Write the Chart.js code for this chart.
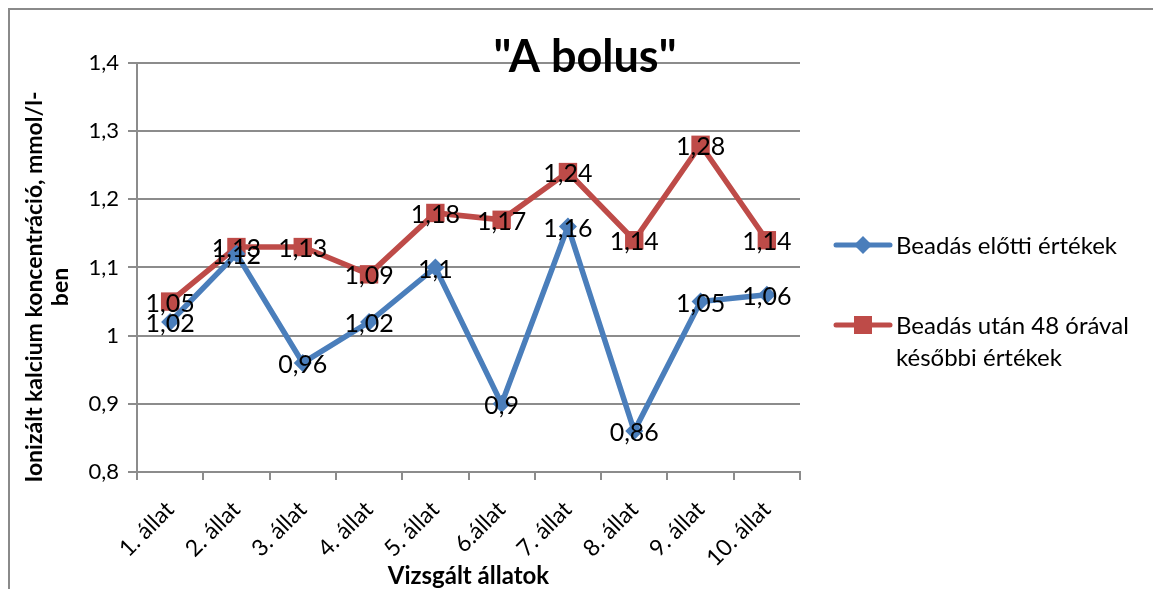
<!DOCTYPE html>
<html>
<head>
<meta charset="utf-8">
<script src="https://cdn.jsdelivr.net/npm/chart.js@4.4.0/dist/chart.umd.min.js"></script>
<style>
  body { margin: 0; background: #fff; }
  #wrap { position: relative; width: 1153px; height: 589px; overflow: hidden; }
  #frame { position: absolute; left: 8px; top: 8px; width: 1200px; height: 700px;
           border-top: 2px solid #8a8a8a; border-left: 2px solid #8a8a8a; }
  canvas { position: absolute; left: 0; top: 0; }
</style>
</head>
<body>
<div id="wrap">
  <div id="frame"></div>
  <canvas id="chart" width="1153" height="589"></canvas>
</div>
<script>
const animals = ['1. állat', '2. állat', '3. állat', '4. állat', '5. állat',
                 '6.állat', '7. állat', '8. állat', '9. állat', '10. állat'];
const before = [1.02, 1.12, 0.96, 1.02, 1.1, 0.9, 1.16, 0.86, 1.05, 1.06];
const after48 = [1.05, 1.13, 1.13, 1.09, 1.18, 1.17, 1.24, 1.14, 1.28, 1.14];
const seriesNames = ['Beadás előtti értékek', ['Beadás után 48 órával', 'későbbi értékek']];

const FONT = 'Lato, "Open Sans", sans-serif';
const BLUE = '#4a7ebb';
const RED = '#be4b48';
const GRID = '#8c8c8c';

function fmt(v) {
  return Number(v.toFixed(2)).toString().replace('.', ',');
}

// value labels centered on each point
const pointLabels = {
  id: 'pointLabels',
  afterDatasetsDraw(chart) {
    const ctx = chart.ctx;
    ctx.save();
    ctx.font = '25px ' + FONT;
    ctx.fillStyle = '#000';
    ctx.textAlign = 'center';
    ctx.textBaseline = 'middle';
    chart.data.datasets.forEach(function(ds, i) {
      chart.getDatasetMeta(i).data.forEach(function(pt, j) {
        ctx.fillText(fmt(ds.data[j]), pt.x, pt.y + 2);
      });
    });
    ctx.restore();
  }
};

// titles and legend
const extras = {
  id: 'extras',
  afterDraw(chart) {
    const ctx = chart.ctx;
    const a = chart.chartArea;
    ctx.save();
    ctx.fillStyle = '#000';
    ctx.textAlign = 'center';
    ctx.textBaseline = 'middle';

    ctx.font = 'bold 45px ' + FONT;
    ctx.fillText('"A bolus"', 585, 57);

    ctx.font = 'bold 24px ' + FONT;
    ctx.fillText('Vizsgált állatok', (a.left + a.right) / 2, 576);

    ctx.font = 'bold 23px ' + FONT;
    ctx.save();
    ctx.translate(35, 287);
    ctx.rotate(-Math.PI / 2);
    ctx.fillText('Ionizált kalcium koncentráció, mmol/l-', 0, 0);
    ctx.fillText('ben', 0, 26);
    ctx.restore();

    // legend
    const lx = 836, rows = [245, 325];
    chart.data.datasets.forEach(function(ds, i) {
      const y = rows[i];
      ctx.strokeStyle = ds.borderColor;
      ctx.lineWidth = 5;
      ctx.lineCap = 'round';
      ctx.beginPath();
      ctx.moveTo(lx, y);
      ctx.lineTo(lx + 54, y);
      ctx.stroke();
      ctx.fillStyle = ds.borderColor;
      ctx.beginPath();
      if (i === 0) {
        ctx.moveTo(lx + 27, y - 9); ctx.lineTo(lx + 36, y);
        ctx.lineTo(lx + 27, y + 9); ctx.lineTo(lx + 18, y);
        ctx.closePath();
      } else {
        ctx.rect(lx + 18, y - 9, 18, 18);
      }
      ctx.fill();
      ctx.fillStyle = '#000';
      ctx.textAlign = 'left';
      ctx.font = '24px ' + FONT;
      const lines = Array.isArray(seriesNames[i]) ? seriesNames[i] : [seriesNames[i]];
      lines.forEach(function(t, k) {
        ctx.fillText(t, lx + 60, y + 1 + k * 32);
      });
    });
    ctx.restore();
  }
};

new Chart(document.getElementById('chart'), {
  type: 'line',
  data: {
    labels: animals,
    datasets: [
      {
        label: 'Beadás előtti értékek',
        data: before,
        borderColor: BLUE,
        backgroundColor: BLUE,
        borderWidth: 5.5,
        pointStyle: 'rectRot',
        pointRadius: 9,
        pointBorderWidth: 0,
        tension: 0
      },
      {
        label: 'Beadás után 48 órával későbbi értékek',
        data: after48,
        borderColor: RED,
        backgroundColor: RED,
        borderWidth: 5.5,
        pointStyle: 'rect',
        pointRadius: 13,
        pointBorderWidth: 0,
        tension: 0
      }
    ]
  },
  options: {
    responsive: false,
    animation: false,
    layout: { padding: { top: 63, right: 353, left: 0, bottom: 0 } },
    plugins: {
      legend: { display: false },
      title: { display: false },
      tooltip: { enabled: false }
    },
    scales: {
      x: {
        offset: true,
        afterFit(scale) { scale.height = 117; },
        grid: { display: true, offset: true, drawOnChartArea: false, drawTicks: true,
                tickLength: 8, color: GRID, lineWidth: 2 },
        border: { display: true, color: GRID, width: 2 },
        ticks: { color: '#000', font: { family: FONT, size: 23 },
                 maxRotation: 45, minRotation: 45, padding: 16, autoSkip: false }
      },
      y: {
        min: 0.8,
        max: 1.4,
        afterFit(scale) { scale.width = 137; },
        grid: { color: GRID, lineWidth: 2, tickLength: 9 },
        border: { display: true, color: GRID, width: 2 },
        ticks: { stepSize: 0.1, color: '#000', padding: 9,
                 font: { family: FONT, size: 22 },
                 callback: function(v) { return fmt(v); } }
      }
    }
  },
  plugins: [pointLabels, extras]
});
</script>
</body>
</html>
